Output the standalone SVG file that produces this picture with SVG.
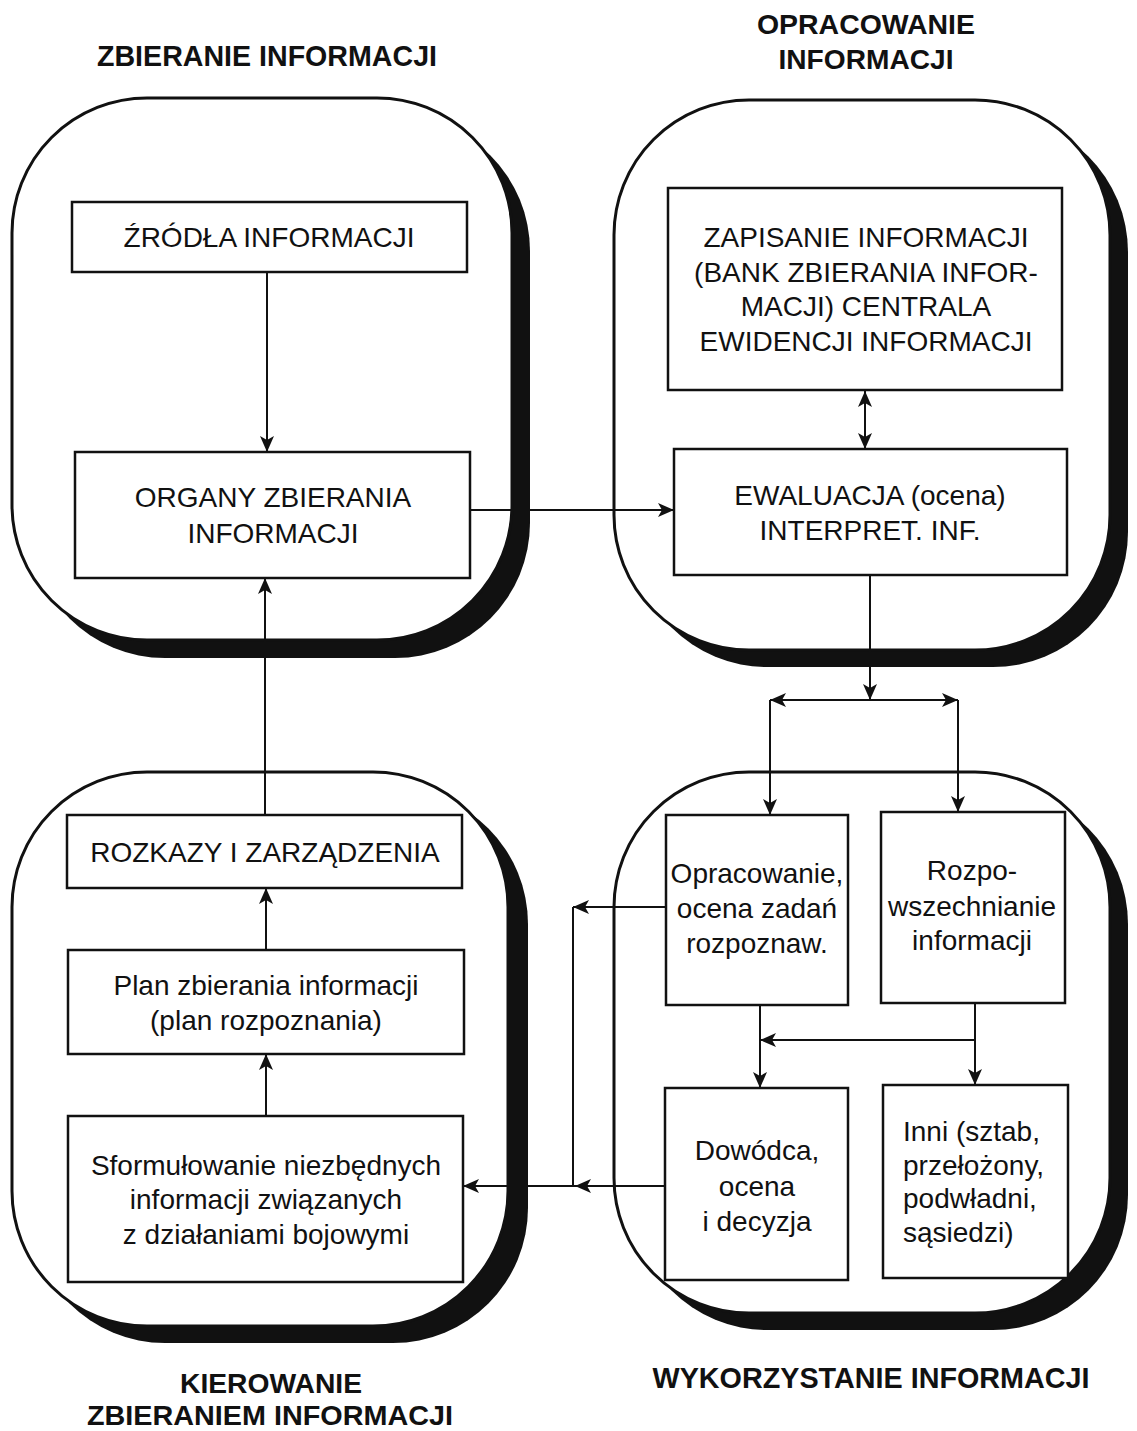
<svg xmlns="http://www.w3.org/2000/svg" width="1137" height="1431" viewBox="0 0 1137 1431">
<style>
  .shadow { fill: #111; }
  .cont { fill: #fff; stroke: #111; stroke-width: 3; }
  .box { fill: #fff; stroke: #111; stroke-width: 2.5; }
  .t { font-family: "Liberation Sans", Arial, sans-serif; font-size: 28px; fill: #111; text-anchor: middle; }
  .tl { font-family: "Liberation Sans", Arial, sans-serif; font-size: 28px; fill: #111; text-anchor: start; }
  .title { font-family: "Liberation Sans", Arial, sans-serif; font-size: 30px; font-weight: bold; fill: #111; text-anchor: middle; }
  .title2 { font-family: "Liberation Sans", Arial, sans-serif; font-size: 28px; font-weight: bold; fill: #111; text-anchor: middle; }
  .c { fill: none; stroke: #111; stroke-width: 2; }
</style>
<defs>
  <marker id="ah" viewBox="0 0 16 14" refX="16" refY="7" markerWidth="16" markerHeight="14" markerUnits="userSpaceOnUse" orient="auto-start-reverse">
    <path d="M0,0 L16,7 L0,14 L4,7 z" fill="#111"/>
  </marker>
</defs>
<rect width="1137" height="1431" fill="#fff"/>

<!-- titles -->
<g id="titles">
  <text class="title" x="267" y="66" textLength="340" lengthAdjust="spacingAndGlyphs">ZBIERANIE INFORMACJI</text>
  <text class="title2" x="866" y="34" textLength="218" lengthAdjust="spacingAndGlyphs">OPRACOWANIE</text>
  <text class="title2" x="866" y="69" textLength="175" lengthAdjust="spacingAndGlyphs">INFORMACJI</text>
  <text class="title2" x="271" y="1393" textLength="182" lengthAdjust="spacingAndGlyphs">KIEROWANIE</text>
  <text class="title2" x="270" y="1425" textLength="366" lengthAdjust="spacingAndGlyphs">ZBIERANIEM INFORMACJI</text>
  <text class="title" x="871" y="1388" textLength="437" lengthAdjust="spacingAndGlyphs">WYKORZYSTANIE INFORMACJI</text>
</g>

<!-- containers -->
<g id="container-zbieranie">
  <rect class="shadow" x="30" y="116" width="500" height="542" rx="135" ry="135"/>
  <rect class="cont" x="12" y="98" width="500" height="542" rx="135" ry="135"/>
</g>
<g id="container-opracowanie">
  <rect class="shadow" x="632" y="117" width="496" height="550" rx="135" ry="135"/>
  <rect class="cont" x="614" y="100" width="496" height="550" rx="135" ry="135"/>
</g>
<g id="container-kierowanie">
  <rect class="shadow" x="30" y="789" width="498" height="554" rx="135" ry="135"/>
  <rect class="cont" x="12" y="772" width="496" height="554" rx="135" ry="135"/>
</g>
<g id="container-wykorzystanie">
  <rect class="shadow" x="632" y="789" width="496" height="541" rx="135" ry="135"/>
  <rect class="cont" x="614" y="772" width="496" height="541" rx="135" ry="135"/>
</g>

<!-- connectors -->
<g id="connectors">
  <path class="c" d="M267,272 V452" marker-end="url(#ah)"/>
  <path class="c" d="M470,510 H674" marker-end="url(#ah)"/>
  <path class="c" d="M865,391 V449" marker-start="url(#ah)" marker-end="url(#ah)"/>
  <path class="c" d="M870,575 V700" marker-end="url(#ah)"/>
  <path class="c" d="M870,700 H770" marker-end="url(#ah)"/>
  <path class="c" d="M870,700 H958" marker-end="url(#ah)"/>
  <path class="c" d="M770,700 V815" marker-end="url(#ah)"/>
  <path class="c" d="M958,700 V812" marker-end="url(#ah)"/>
  <path class="c" d="M760,1005 V1088" marker-end="url(#ah)"/>
  <path class="c" d="M975,1003 V1085" marker-end="url(#ah)"/>
  <path class="c" d="M975,1040 H760" marker-end="url(#ah)"/>
  <path class="c" d="M666,907 H573" marker-end="url(#ah)"/>
  <path class="c" d="M573,907 V1186"/>
  <path class="c" d="M665,1186 H575" marker-end="url(#ah)"/>
  <path class="c" d="M575,1186 H463" marker-end="url(#ah)"/>
  <path class="c" d="M265,815 V578" marker-end="url(#ah)"/>
  <path class="c" d="M266,950 V888" marker-end="url(#ah)"/>
  <path class="c" d="M266,1116 V1054" marker-end="url(#ah)"/>
</g>

<!-- nodes -->
<g id="zrodla">
  <rect class="box" x="72" y="202" width="395" height="70"/>
  <text class="t" x="269" y="247">ŹRÓDŁA INFORMACJI</text>
</g>
<g id="organy">
  <rect class="box" x="75" y="452" width="395" height="126"/>
  <text class="t" x="273" y="507">ORGANY ZBIERANIA</text>
  <text class="t" x="273" y="543">INFORMACJI</text>
</g>
<g id="zapisanie">
  <rect class="box" x="668" y="188" width="394" height="202"/>
  <text class="t" x="866" y="247">ZAPISANIE INFORMACJI</text>
  <text class="t" x="866" y="282">(BANK ZBIERANIA INFOR-</text>
  <text class="t" x="866" y="316">MACJI) CENTRALA</text>
  <text class="t" x="866" y="351">EWIDENCJI INFORMACJI</text>
</g>
<g id="ewaluacja">
  <rect class="box" x="674" y="449" width="393" height="126"/>
  <text class="t" x="870" y="505">EWALUACJA (ocena)</text>
  <text class="t" x="870" y="540">INTERPRET. INF.</text>
</g>
<g id="opracowanie">
  <rect class="box" x="666" y="815" width="182" height="190"/>
  <text class="t" x="757" y="883">Opracowanie,</text>
  <text class="t" x="757" y="918">ocena zadań</text>
  <text class="t" x="757" y="953">rozpoznaw.</text>
</g>
<g id="rozpowszechnianie">
  <rect class="box" x="881" y="812" width="184" height="191"/>
  <text class="t" x="972" y="880">Rozpo-</text>
  <text class="t" x="972" y="916">wszechnianie</text>
  <text class="t" x="972" y="950">informacji</text>
</g>
<g id="dowodca">
  <rect class="box" x="665" y="1088" width="183" height="192"/>
  <text class="t" x="757" y="1160">Dowódca,</text>
  <text class="t" x="757" y="1196">ocena</text>
  <text class="t" x="757" y="1231">i decyzja</text>
</g>
<g id="inni">
  <rect class="box" x="883" y="1085" width="185" height="193"/>
  <text class="tl" x="903" y="1141">Inni (sztab,</text>
  <text class="tl" x="903" y="1175">przełożony,</text>
  <text class="tl" x="903" y="1208">podwładni,</text>
  <text class="tl" x="903" y="1242">sąsiedzi)</text>
</g>
<g id="rozkazy">
  <rect class="box" x="67" y="815" width="395" height="73"/>
  <text class="t" x="265" y="862">ROZKAZY I ZARZĄDZENIA</text>
</g>
<g id="plan">
  <rect class="box" x="68" y="950" width="396" height="104"/>
  <text class="t" x="266" y="995">Plan zbierania informacji</text>
  <text class="t" x="266" y="1030">(plan rozpoznania)</text>
</g>
<g id="sformulowanie">
  <rect class="box" x="68" y="1116" width="395" height="166"/>
  <text class="t" x="266" y="1175">Sformułowanie niezbędnych</text>
  <text class="t" x="266" y="1209">informacji związanych</text>
  <text class="t" x="266" y="1244">z działaniami bojowymi</text>
</g>
</svg>
